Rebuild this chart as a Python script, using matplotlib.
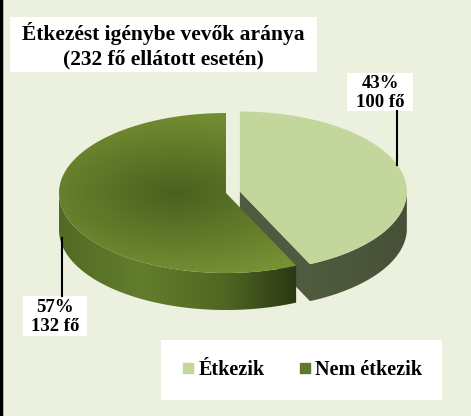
import numpy as np
import matplotlib.pyplot as plt
from matplotlib.patches import Polygon, Rectangle
from matplotlib.lines import Line2D

plt.rcParams['font.family'] = ['Liberation Serif', 'DejaVu Serif']
plt.rcParams['font.weight'] = 'bold'

# data
categories = ['Étkezik', 'Nem étkezik']
counts = [100, 132]
percents = [43, 57]
title = 'Étkezést igénybe vevők aránya\n(232 fő ellátott esetén)'

top_colors = ['#C3D69B', '#77933C']
legend_colors = ['#C3D69B', '#5F7A2C']

# layout (pixel space)
W, H = 471, 416
cx, cy = 226, 193
a, b = 167, 80
depth = 37
explode = [0.085, 0.0]

fig = plt.figure(figsize=(W / 100, H / 100), dpi=100)
fig.patch.set_facecolor('#EBF1DE')
ax = fig.add_axes([0, 0, 1, 1])
ax.set_xlim(0, W)
ax.set_ylim(H, 0)
ax.axis('off')

# slice angles, clockwise from 12 o'clock like Excel
total = sum(counts)
fr = np.array(counts) / total
ends = 90 - np.cumsum(fr) * 360
starts = np.concatenate([[90], ends[:-1]])


def pt(t, ox, oy, dz=0):
    t = np.radians(t)
    return cx + ox + a * np.cos(t), cy + oy - b * np.sin(t) + dz


def offset(i):
    mid = np.radians((starts[i] + ends[i]) / 2)
    return explode[i] * a * np.cos(mid), -explode[i] * b * np.sin(mid)


def clipped_gradient(poly, img, extent, z):
    ax.add_patch(poly)
    im = ax.imshow(img, extent=extent, origin='upper', aspect='auto',
                   zorder=z, interpolation='bilinear')
    im.set_clip_path(poly)


def hgrad(stops, n=200):
    xs = np.linspace(0, 1, n)
    pos = [s[0] for s in stops]
    img = np.zeros((2, n, 3))
    for c in range(3):
        img[:, :, c] = np.interp(xs, pos, [s[1][c] for s in stops]) / 255
    return img


# side walls (back to front)
for i in [0, 1]:
    ox, oy = offset(i)
    lo, hi = ends[i], starts[i]
    # radial cut face visible on exploded slice
    if explode[i] > 0:
        x0, y0 = cx + ox, cy + oy
        x1, y1 = pt(lo, ox, oy)
        face = Polygon([(x0, y0), (x1, y1), (x1, y1 + depth), (x0, y0 + depth)],
                       closed=True, fc='#4F5A40', ec='none', zorder=2)
        ax.add_patch(face)
    # outer arc, only front half
    ts = np.linspace(lo, hi, 300)
    ts = ts[(np.mod(ts, 360) >= 180) & (np.mod(ts, 360) <= 360)]
    if len(ts) == 0:
        continue
    xs, ys = pt(ts, ox, oy)
    verts = list(zip(xs, ys)) + list(zip(xs[::-1], ys[::-1] + depth))
    side = Polygon(verts, closed=True, fc='none', ec='none', zorder=3)
    if i == 0:
        img = hgrad([(0, (80, 92, 62)), (1, (70, 80, 55))])
    else:
        img = hgrad([(0, (82, 106, 36)), (0.35, (98, 126, 44)),
                     (0.7, (80, 102, 34)), (1, (42, 56, 18))])
    ext = [xs.min(), xs.max(), ys.max() + depth, ys.min()]
    clipped_gradient(side, img, ext, 3)

# top faces
for i in [0, 1]:
    ox, oy = offset(i)
    ts = np.linspace(ends[i], starts[i], 300)
    xs, ys = pt(ts, ox, oy)
    verts = [(cx + ox, cy + oy)] + list(zip(xs, ys))
    if i == 0:
        top = Polygon(verts, closed=True, fc=top_colors[0], ec='none', zorder=4)
        ax.add_patch(top)
    else:
        top = Polygon(verts, closed=True, fc='none', ec='none', zorder=4)
        gx = np.linspace(cx - a, cx + a, 200)
        gy = np.linspace(cy - b, cy + b, 120)
        GX, GY = np.meshgrid(gx, gy)
        r = np.sqrt(((GX - (cx - 50)) / a) ** 2 + ((GY - cy) / b) ** 2)
        r = np.clip(r / 1.1, 0, 1)
        inner = np.array([74, 96, 30]) / 255
        outer = np.array([118, 146, 52]) / 255
        img = inner + (outer - inner) * r[..., None]
        clipped_gradient(top, img, [cx - a, cx + a, cy + b, cy - b], 4)

# title
ax.add_patch(Rectangle((10, 17), 307, 55, fc='white', ec='none', zorder=5))
ax.text(163, 46, title, ha='center', va='center', fontsize=15.5,
        fontweight='bold', linespacing=1.3, zorder=6)

# data labels with leader lines
lab = [f'{p}%\n{c} fő' for p, c in zip(percents, counts)]
ax.add_patch(Rectangle((347, 73), 66, 38, fc='white', ec='none', zorder=5))
ax.text(380, 93, lab[0], ha='center', va='center', fontsize=13.5,
        fontweight='bold', linespacing=1.1, zorder=6)
ax.plot([397, 397], [111, 165], color='black', lw=1.5, zorder=5)

ax.add_patch(Rectangle((23, 296), 64, 40, fc='white', ec='none', zorder=5))
ax.text(55, 317, lab[1], ha='center', va='center', fontsize=13.5,
        fontweight='bold', linespacing=1.1, zorder=6)
ax.plot([62, 62], [238, 296], color='black', lw=1.5, zorder=5)

# legend
ax.add_patch(Rectangle((161, 340), 281, 60, fc='white', ec='none', zorder=5))
handles = [Line2D([], [], marker='s', ls='none', ms=7, color=c) for c in legend_colors]
leg = ax.legend(handles, categories, loc='center', ncol=2, frameon=False,
                bbox_to_anchor=((161 + 140) / W, 1 - 370 / H),
                prop={'size': 14.5, 'weight': 'bold'}, handletextpad=0.1,
                columnspacing=1.6, handlelength=0.8)
leg.set_zorder(6)

# left border
ax.plot([1, 1], [0, H], color='black', lw=2.5, zorder=7)

fig.savefig('out.png', dpi=100, facecolor=fig.get_facecolor())
